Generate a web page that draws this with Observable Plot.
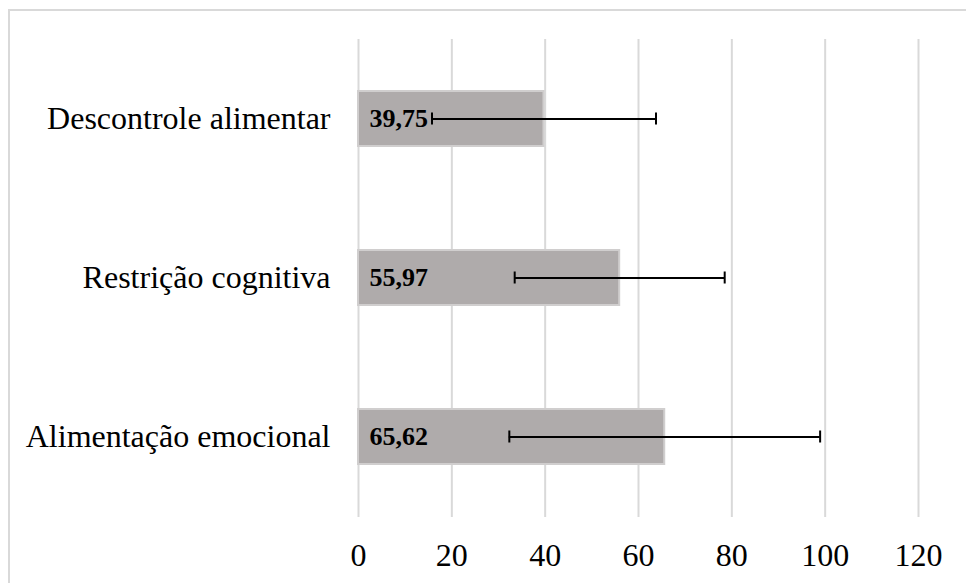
<!DOCTYPE html>
<html>
<head>
<meta charset="utf-8">
<script src="https://cdn.jsdelivr.net/npm/d3@7"></script>
<script src="https://cdn.jsdelivr.net/npm/@observablehq/plot@0.6"></script>
<style>
  html, body { margin: 0; padding: 0; background: #fff; }
  #wrap { position: relative; width: 966px; height: 583px; overflow: hidden; }
  #border { position: absolute; left: 8px; top: 9px; width: 1200px; height: 1200px;
            border: 2px solid #d9d9d9; box-sizing: border-box; pointer-events: none; }
  #chart { position: absolute; left: 0; top: 0; }
</style>
</head>
<body>
<div id="wrap"><div id="chart"></div><div id="border"></div></div>
<script>
const categories = ["Descontrole alimentar", "Restrição cognitiva", "Alimentação emocional"];
const means = [39.75, 55.97, 65.62];
const sds = [24.0, 22.5, 33.3];
const meanLabels = ["39,75", "55,97", "65,62"];
const xTicks = [0, 20, 40, 60, 80, 100, 120];

const data = categories.map((c, i) => ({
  cat: c, mean: means[i], lo: means[i] - sds[i], hi: means[i] + sds[i], label: meanLabels[i]
}));

const chart = Plot.plot({
  width: 966,
  height: 583,
  marginLeft: 358,
  marginRight: 48,
  marginTop: 39,
  marginBottom: 66,
  style: { fontFamily: "'Liberation Serif', 'Times New Roman', serif", fontSize: "32px", color: "#000", background: "transparent" },
  x: { domain: [0, 120], ticks: xTicks, label: null },
  y: { domain: categories, paddingInner: 0.654, paddingOuter: 0.327, label: null },
  marks: [
    Plot.gridX(xTicks, { stroke: "#d9d9d9", strokeOpacity: 1, strokeWidth: 2 }),
    Plot.axisX({ ticks: xTicks, tickSize: 0, tickPadding: 26, fontSize: 32, label: null }),
    Plot.axisY({ tickSize: 0, tickPadding: 28, fontSize: 32, label: null }),
    Plot.barX(data, { y: "cat", x1: 0, x2: "mean", fill: "#afabab", stroke: "#d0cece", strokeWidth: 2 }),
    Plot.ruleY(data, { y: "cat", x1: "lo", x2: "hi", stroke: "#000", strokeWidth: 2 }),
    Plot.tickX(data, { y: "cat", x: "lo", stroke: "#000", strokeWidth: 2, insetTop: 21.5, insetBottom: 21.5 }),
    Plot.tickX(data, { y: "cat", x: "hi", stroke: "#000", strokeWidth: 2, insetTop: 21.5, insetBottom: 21.5 }),
    Plot.text(data, { y: "cat", x: 0, text: "label", textAnchor: "start", dx: 11, fontSize: 26, fontWeight: "bold", fill: "#000" })
  ]
});
document.getElementById("chart").appendChild(chart);
</script>
</body>
</html>
